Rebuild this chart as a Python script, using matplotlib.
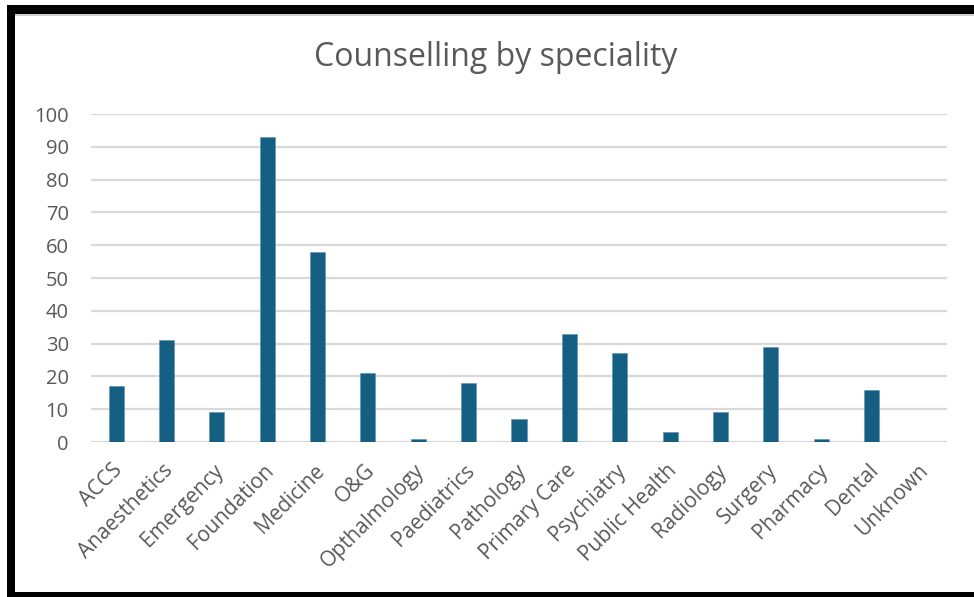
import matplotlib
matplotlib.use("Agg")
import matplotlib.pyplot as plt
import matplotlib.transforms as mtransforms
from matplotlib.patches import Rectangle

categories = ["ACCS", "Anaesthetics", "Emergency", "Foundation", "Medicine", "O&G",
              "Opthalmology", "Paediatrics", "Pathology", "Primary Care", "Psychiatry",
              "Public Health", "Radiology", "Surgery", "Pharmacy", "Dental", "Unknown"]
counts = [17, 31, 9, 93, 58, 21, 1, 18, 7, 33, 27, 3, 9, 29, 1, 16, 0]
y_ticks = [0, 10, 20, 30, 40, 50, 60, 70, 80, 90, 100]

W, H = 974, 597
plt.rcParams['font.family'] = ['Open Sans', 'DejaVu Sans']
fig = plt.figure(figsize=(W / 100, H / 100), dpi=100)
fig.patch.set_facecolor("white")

ax = fig.add_axes([91 / W, (H - 442) / H, (947 - 91) / W, (442 - 114) / H])
x = range(len(categories))
ax.bar(x, counts, width=0.3, color="#156082", edgecolor="#5b8fb0", linewidth=0.4, zorder=3)
ax.set_xlim(-0.5, len(categories) - 0.5)
ax.set_ylim(0, 100)
ax.set_yticks(y_ticks)
ax.set_yticklabels([str(v) for v in y_ticks], fontsize=14.5, color="#595959")
ax.set_xticks(list(x))
ax.set_xticklabels(categories, rotation=45, ha="right", rotation_mode="anchor",
                   fontsize=15, color="#595959")
ax.tick_params(axis="y", length=0, pad=16)
ax.tick_params(axis="x", length=0, pad=10)
shift = mtransforms.ScaledTranslation(-4 / 100, -4 / 100, fig.dpi_scale_trans)
for lab in ax.get_xticklabels():
    lab.set_transform(lab.get_transform() + shift)
ax.yaxis.grid(True, color="#d9d9d9", linewidth=1.6, zorder=0)
ax.set_axisbelow(True)
for s in ax.spines.values():
    s.set_visible(False)

fig.text(496 / W, 1 - 58 / H, "Counselling by speciality", ha="center", va="center",
         fontsize=23, color="#595959")

# black frame around the chart (left, top, bottom)
for (x0, y0, w, h) in [(7, 5, 8, 592), (7, 5, 967, 9), (7, 592, 967, 5)]:
    fig.add_artist(Rectangle((x0 / W, 1 - (y0 + h) / H), w / W, h / H,
                             transform=fig.transFigure, facecolor="black",
                             edgecolor="none"))
fig.add_artist(Rectangle((15 / W, 1 - 16 / H), 959 / W, 2 / H, transform=fig.transFigure,
                         facecolor="#d0d0d0", edgecolor="none"))

fig.savefig("out.png", dpi=100)
